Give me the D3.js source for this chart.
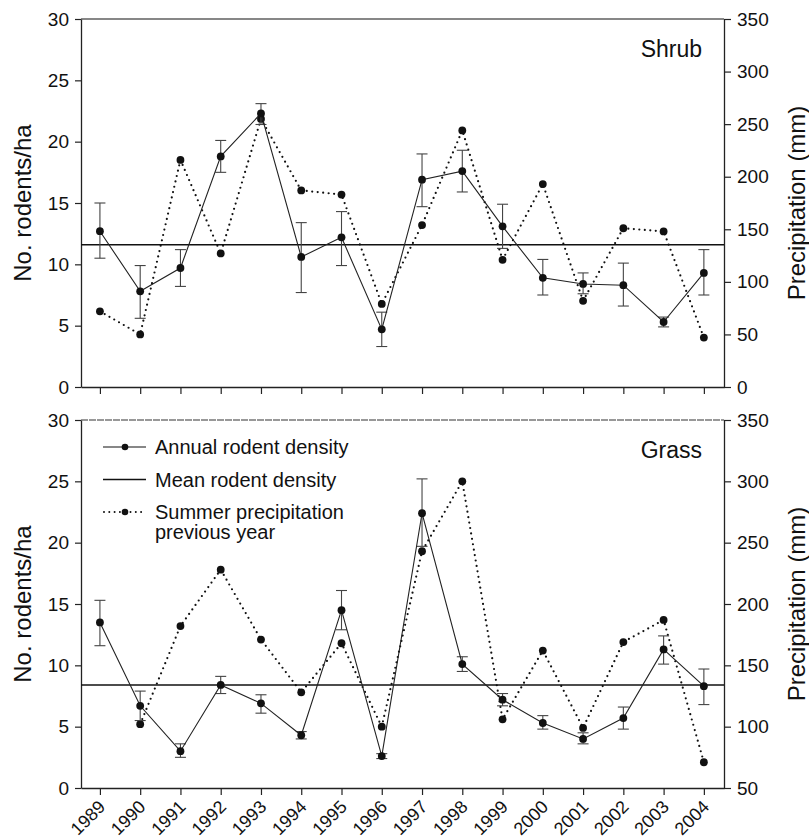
<!DOCTYPE html>
<html>
<head>
<meta charset="utf-8">
<script src="https://cdn.jsdelivr.net/npm/d3@7"></script>
<style>
  body { margin: 0; background: #fff; }
  svg text { font-family: "Liberation Sans", Arial, Helvetica, sans-serif; fill: #111; }
</style>
</head>
<body>
<svg id="chart" width="809" height="838"></svg>
<script>
const years = [1989, 1990, 1991, 1992, 1993, 1994, 1995, 1996, 1997, 1998, 1999, 2000, 2001, 2002, 2003, 2004];

// shrub habitat
const shrubDensity = [12.7, 7.8, 9.7, 18.8, 22.3, 10.6, 12.2, 4.7, 16.9, 17.6, 13.1, 8.9, 8.4, 8.3, 5.3, 9.3];
const shrubErrHi   = [15.0, 9.9, 11.2, 20.1, 23.1, 13.4, 14.3, 6.1, 19.0, 19.3, 14.9, 10.4, 9.3, 10.1, 5.7, 11.2];
const shrubErrLo   = [10.5, 5.6, 8.2, 17.5, 21.4, 7.7, 9.9, 3.3, 14.7, 15.9, 11.3, 7.5, 7.6, 6.6, 4.9, 7.5];
const shrubPrecip  = [72, 50, 216, 127, 255, 187, 183, 79, 154, 244, 121, 193, 82, 151, 148, 47];
const shrubMean = 11.6;

// grass habitat
const grassDensity = [13.5, 6.7, 3.0, 8.4, 6.9, 4.3, 14.5, 2.6, 22.4, 10.1, 7.2, 5.3, 4.0, 5.7, 11.3, 8.3];
const grassErrHi   = [15.3, 7.9, 3.6, 9.1, 7.6, 4.6, 16.1, 2.8, 25.2, 10.7, 7.7, 5.9, 4.5, 6.6, 12.4, 9.7];
const grassErrLo   = [11.6, 5.5, 2.5, 7.7, 6.1, 4.0, 12.9, 2.4, 19.7, 9.5, 6.7, 4.8, 3.6, 4.8, 10.1, 6.8];
const grassPrecip  = [null, 102, 182, 228, 171, 128, 168, 100, 243, 300, 106, 162, 99, 169, 187, 71];
const grassMean = 8.4;

const leftTicks = [0, 5, 10, 15, 20, 25, 30];
const shrubRightTicks = [0, 50, 100, 150, 200, 250, 300, 350];
const grassRightTicks = [50, 100, 150, 200, 250, 300, 350];

const legendItems = [
  {label: ["Annual rodent density"], kind: "density"},
  {label: ["Mean rodent density"], kind: "mean"},
  {label: ["Summer precipitation", "previous year"], kind: "precip"}
];

const left = 81, right = 724;
const svg = d3.select("#chart");

const x = d3.scaleLinear().domain([1988.53, 2004.5]).range([left, right]);

const panels = [
  {name: "Shrub", top: 19, bottom: 387, density: shrubDensity, hi: shrubErrHi, lo: shrubErrLo,
   precip: shrubPrecip, mean: shrubMean, rDomain: [0, 350], rTicks: shrubRightTicks, labels: false, legend: false, solidTop: true},
  {name: "Grass", top: 420, bottom: 788, density: grassDensity, hi: grassErrHi, lo: grassErrLo,
   precip: grassPrecip, mean: grassMean, rDomain: [50, 350], rTicks: grassRightTicks, labels: true, legend: true, solidTop: false}
];

const font = 19;

function styleAxis(g) {
  g.selectAll("path.domain").attr("stroke", "#222").attr("stroke-width", 1.3);
  g.selectAll(".tick line").attr("stroke", "#222").attr("stroke-width", 1.2);
  g.selectAll(".tick text").style("font-size", font + "px").attr("fill", "#111");
}

panels.forEach(p => {
  const yL = d3.scaleLinear().domain([0, 30]).range([p.bottom, p.top]);
  const yR = d3.scaleLinear().domain(p.rDomain).range([p.bottom, p.top]);
  const g = svg.append("g");

  // top frame line
  g.append("line")
    .attr("x1", left).attr("x2", right)
    .attr("y1", p.top).attr("y2", p.top)
    .attr("stroke", p.solidTop ? "#111" : "#333")
    .attr("stroke-width", 1.2)
    .attr("stroke-dasharray", p.solidTop ? null : "7,1");

  // left axis
  g.append("g")
    .attr("transform", `translate(${left},0)`)
    .call(d3.axisLeft(yL).tickValues(leftTicks).tickSize(6).tickSizeOuter(0).tickPadding(6))
    .call(styleAxis);

  // right axis
  g.append("g")
    .attr("transform", `translate(${right},0)`)
    .call(d3.axisRight(yR).tickValues(p.rTicks).tickSize(7).tickSizeOuter(0).tickPadding(6))
    .call(styleAxis);

  // bottom axis
  const xa = g.append("g")
    .attr("transform", `translate(0,${p.bottom})`)
    .call(d3.axisBottom(x).tickValues(years).tickSize(7).tickSizeOuter(0)
      .tickFormat(p.labels ? d3.format("d") : ""))
    .call(styleAxis);
  if (p.labels) {
    xa.selectAll(".tick text")
      .style("font-size", "18px")
      .attr("text-anchor", "end")
      .attr("y", 0)
      .attr("dy", 0)
      .attr("transform", "translate(6,20) rotate(-45)");
  }

  // axis titles
  g.append("text")
    .attr("transform", `translate(23,${(p.top + p.bottom) / 2}) rotate(-90)`)
    .attr("text-anchor", "middle")
    .attr("dy", "0.35em")
    .style("font-size", "24px")
    .text("No. rodents/ha");
  g.append("text")
    .attr("transform", `translate(797,${(p.top + p.bottom) / 2}) rotate(-90)`)
    .attr("text-anchor", "middle")
    .attr("dy", "0.35em")
    .style("font-size", "24px")
    .text("Precipitation (mm)");

  // panel label
  g.append("text")
    .attr("x", 702).attr("y", p.top + 38)
    .attr("text-anchor", "end")
    .style("font-size", "23px")
    .text(p.name);

  // mean line
  g.append("line")
    .attr("x1", left).attr("x2", right)
    .attr("y1", yL(p.mean)).attr("y2", yL(p.mean))
    .attr("stroke", "#111").attr("stroke-width", 1.5);

  // precipitation (dotted)
  const pts = years.map((yr, i) => ({yr, v: p.precip[i]}));
  g.append("path")
    .datum(pts)
    .attr("fill", "none")
    .attr("stroke", "#111")
    .attr("stroke-width", 2.2)
    .attr("stroke-linecap", "round")
    .attr("stroke-dasharray", "0,5.5")
    .attr("d", d3.line().defined(d => d.v != null).x(d => x(d.yr)).y(d => yR(d.v)));
  g.selectAll(".pdot")
    .data(pts.filter(d => d.v != null))
    .join("circle")
    .attr("cx", d => x(d.yr)).attr("cy", d => yR(d.v))
    .attr("r", 3.9).attr("fill", "#111");

  // error bars
  const eb = g.selectAll(".err")
    .data(years.map((yr, i) => ({yr, hi: p.hi[i], lo: p.lo[i]})))
    .join("g")
    .attr("stroke", "#444").attr("stroke-width", 1.1);
  eb.append("line")
    .attr("x1", d => x(d.yr)).attr("x2", d => x(d.yr))
    .attr("y1", d => yL(d.hi)).attr("y2", d => yL(d.lo));
  eb.append("line")
    .attr("x1", d => x(d.yr) - 5.5).attr("x2", d => x(d.yr) + 5.5)
    .attr("y1", d => yL(d.hi)).attr("y2", d => yL(d.hi));
  eb.append("line")
    .attr("x1", d => x(d.yr) - 5.5).attr("x2", d => x(d.yr) + 5.5)
    .attr("y1", d => yL(d.lo)).attr("y2", d => yL(d.lo));

  // density line
  const dens = years.map((yr, i) => ({yr, v: p.density[i]}));
  g.append("path")
    .datum(dens)
    .attr("fill", "none")
    .attr("stroke", "#222")
    .attr("stroke-width", 1.1)
    .attr("d", d3.line().x(d => x(d.yr)).y(d => yL(d.v)));
  g.selectAll(".ddot")
    .data(dens)
    .join("circle")
    .attr("cx", d => x(d.yr)).attr("cy", d => yL(d.v))
    .attr("r", 3.9).attr("fill", "#111");

  // legend
  if (p.legend) {
    const lg = g.append("g").attr("transform", `translate(103,${p.top + 27})`);
    legendItems.forEach((item, i) => {
      const row = lg.append("g").attr("transform", `translate(0,${i * 32.5})`);
      const line = row.append("line")
        .attr("x1", 0).attr("x2", 43).attr("y1", 0).attr("y2", 0)
        .attr("stroke", "#111");
      if (item.kind === "precip") {
        line.attr("stroke-width", 2).attr("stroke-linecap", "round").attr("stroke-dasharray", "0,5.3")
          .attr("x1", 1);
      } else {
        line.attr("stroke-width", item.kind === "mean" ? 1.4 : 1.1);
      }
      if (item.kind !== "mean") {
        row.append("circle").attr("cx", 22).attr("cy", 0).attr("r", 3.3).attr("fill", "#111");
      }
      item.label.forEach((t, j) => {
        row.append("text")
          .attr("x", 52).attr("y", j * 20)
          .attr("dy", "0.35em")
          .style("font-size", "20px")
          .text(t);
      });
    });
  }
});
</script>
</body>
</html>
